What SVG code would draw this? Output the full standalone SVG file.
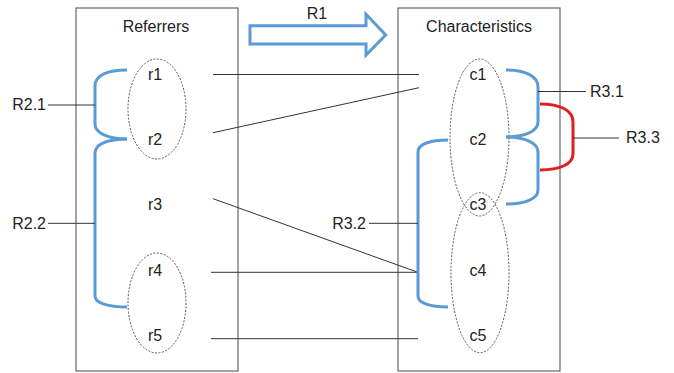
<svg xmlns="http://www.w3.org/2000/svg" width="674" height="373" viewBox="0 0 674 373">
<style>
text{font-family:"Liberation Sans",Arial,sans-serif;font-size:16px;fill:#222}
.box{fill:#fff;stroke:#666;stroke-width:1.2}
.ell{fill:none;stroke:#555;stroke-width:1;stroke-dasharray:2 1.5}
.ln{fill:none;stroke:#333;stroke-width:1}
.br{fill:none;stroke:#5b9bd5;stroke-width:3}
.rd{fill:none;stroke:#e02020;stroke-width:3}
.mid{text-anchor:middle}
.end{text-anchor:end}
</style>
<rect width="674" height="373" fill="#fff"/>
<g id="referrers">
<rect class="box" x="76" y="8" width="162" height="363"/>
<text class="mid" x="156" y="32">Referrers</text>
</g>
<g id="characteristics">
<rect class="box" x="398" y="8" width="162" height="363"/>
<text class="mid" x="479" y="32">Characteristics</text>
</g>
<g id="r-group-1"><ellipse class="ell" cx="157" cy="109" rx="29" ry="50"/></g>
<g id="r-group-2"><ellipse class="ell" cx="157" cy="303" rx="29" ry="50"/></g>
<g id="c-group-1"><ellipse class="ell" cx="479.5" cy="137.5" rx="29.5" ry="78.5"/></g>
<g id="c-group-2"><ellipse class="ell" cx="480" cy="272.7" rx="29" ry="80"/></g>
<g id="r1"><text class="mid" x="155" y="80">r1</text></g>
<g id="r2"><text class="mid" x="155" y="145">r2</text></g>
<g id="r3"><text class="mid" x="155" y="210">r3</text></g>
<g id="r4"><text class="mid" x="155" y="276">r4</text></g>
<g id="r5"><text class="mid" x="155" y="341">r5</text></g>
<g id="c1"><text class="mid" x="478" y="80">c1</text></g>
<g id="c2"><text class="mid" x="478" y="145">c2</text></g>
<g id="c3"><text class="mid" x="478" y="210">c3</text></g>
<g id="c4"><text class="mid" x="478" y="276">c4</text></g>
<g id="c5"><text class="mid" x="478" y="341">c5</text></g>
<g id="r1-arrow">
<path d="M250,25.7 L366,25.7 L366,14.3 L385.7,35 L366,55 L366,44 L250,44 Z" fill="none" stroke="#5b9bd5" stroke-width="3" stroke-linejoin="miter"/>
<text class="mid" x="317" y="19">R1</text>
</g>
<g id="connectors">
<line class="ln" x1="213" y1="74.5" x2="419" y2="74.5"/>
<line class="ln" x1="213" y1="132.7" x2="419" y2="87.7"/>
<line class="ln" x1="213" y1="198.7" x2="418" y2="272.3"/>
<line class="ln" x1="211" y1="272.3" x2="418" y2="272.3"/>
<line class="ln" x1="211" y1="338.7" x2="418" y2="338.7"/>
<path class="br" d="M127,70 C108,70 95,75 95,86 L95,124 C95,133 108,139 127,139"/>
<path class="br" d="M127,139 C108,139 95,144 95,153 L95,296 C95,303 108,307 127,307"/>
<path class="br" d="M506,70 C525,70 538,76 538,87 L538,122 C538,131 525,137 506,137"/>
<path class="br" d="M506,137 C525,137 538,143 538,152 L538,190 C538,199 525,204 506,204"/>
<path class="br" d="M448,140 C430,140 418,144 418,152 L418,296 C418,303 430,307 448,307"/>
<path class="rd" d="M540,104 C560,104 573,110 573,122 L573,154 C573,164 560,170 540,170"/>
<line class="ln" x1="48" y1="105" x2="95" y2="105"/>
<line class="ln" x1="48" y1="223.3" x2="95" y2="223.3"/>
<line class="ln" x1="369" y1="223.3" x2="418" y2="223.3"/>
<line class="ln" x1="538" y1="91.5" x2="586" y2="91.5"/>
<line class="ln" x1="573" y1="138" x2="619" y2="138"/>
</g>
<g id="labels">
<text class="end" x="46" y="110">R2.1</text>
<text class="end" x="46" y="229">R2.2</text>
<text class="end" x="366" y="229">R3.2</text>
<text x="590" y="97">R3.1</text>
<text x="626" y="143">R3.3</text>
</g>
</svg>
